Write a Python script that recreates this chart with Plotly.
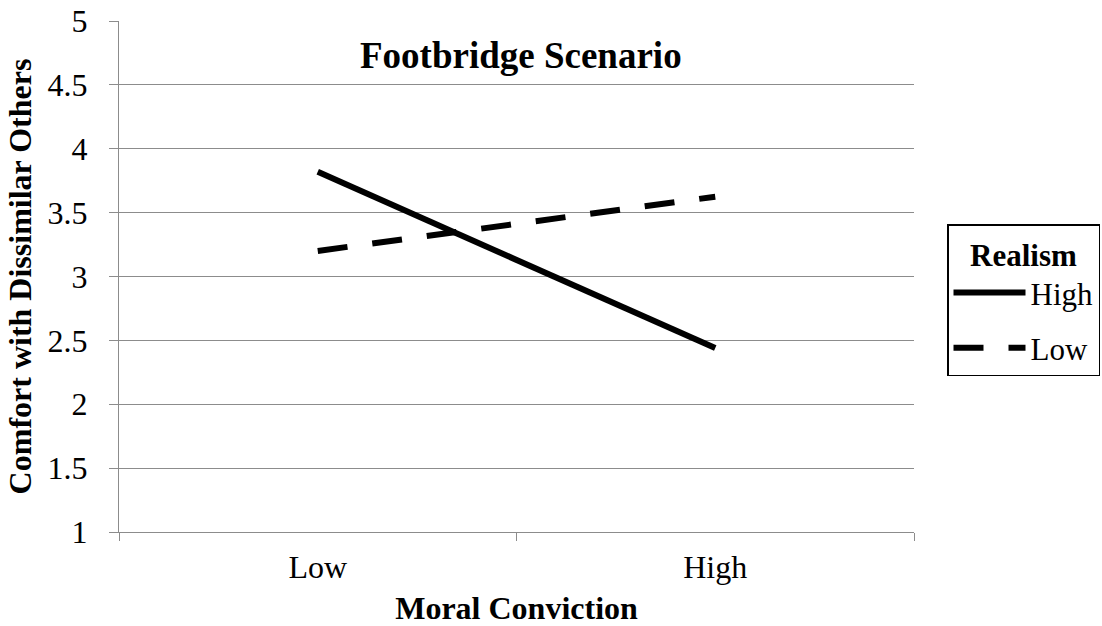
import plotly.graph_objects as go

categories = ["Low", "High"]
realism_high = [3.82, 2.44]
realism_low = [3.20, 3.625]
series_names = ["High", "Low"]
y_ticks = [1, 1.5, 2, 2.5, 3, 3.5, 4, 4.5, 5]
y_tick_labels = ["1", "1.5", "2", "2.5", "3", "3.5", "4", "4.5", "5"]

FONT = "Liberation Serif"
AXC = "#8c8c8c"

fig = go.Figure()
fig.add_trace(go.Scatter(x=categories, y=realism_high, name=series_names[0], mode="lines",
                         legendgroup="a", line=dict(color="black", width=6)))
fig.add_trace(go.Scatter(x=categories, y=realism_low, name=series_names[1], mode="lines",
                         legendgroup="b", line=dict(color="black", width=6, dash="30px,25px")))

fig.update_layout(
    width=1102, height=626,
    margin=dict(l=119, r=188, t=21, b=94),
    paper_bgcolor="white", plot_bgcolor="white",
    font=dict(family=FONT, size=32, color="black"),
    showlegend=True,
    legend=dict(
        title=dict(text="<b>Realism</b>", font=dict(family=FONT, size=31), side="top center"),
        xref="container", yref="container",
        x=947 / 1102, y=1 - 224 / 626, xanchor="left", yanchor="top",
        bordercolor="black", borderwidth=1.5, bgcolor="white",
        font=dict(family=FONT, size=31),
        itemwidth=72,
        tracegroupgap=12,
    ),
    xaxis=dict(
        type="category", categoryorder="array", categoryarray=categories,
        range=[-0.5, 1.5], tickson="boundaries", ticks="outside", ticklen=8,
        tickcolor=AXC, showline=True, linecolor=AXC, linewidth=1,
        showgrid=False, zeroline=False, automargin=False,
        ticklabelstandoff=7,
        tickfont=dict(family=FONT, size=32),
        title=dict(text="<b>Moral Conviction</b>", font=dict(family=FONT, size=32), standoff=18),
    ),
    yaxis=dict(
        range=[1, 5], tickvals=y_ticks, ticktext=y_tick_labels,
        ticks="outside", ticklen=9, tickcolor=AXC,
        showline=True, linecolor=AXC, linewidth=1,
        showgrid=True, gridcolor=AXC, gridwidth=1, zeroline=False, automargin=False,
        ticklabelstandoff=15,
        tickfont=dict(family=FONT, size=32),
        title=dict(text="<b>Comfort with Dissimilar Others</b>", font=dict(family=FONT, size=32), standoff=6),
    ),
    annotations=[dict(text="<b>Footbridge Scenario</b>", xref="paper", yref="paper",
                      x=0.506, y=0.933, xanchor="center", yanchor="middle", showarrow=False,
                      font=dict(family=FONT, size=37))],
)

fig.write_html("out.html", config={"displayModeBar": False},
               post_script="document.body.style.margin='0';document.body.style.overflow='hidden';")
